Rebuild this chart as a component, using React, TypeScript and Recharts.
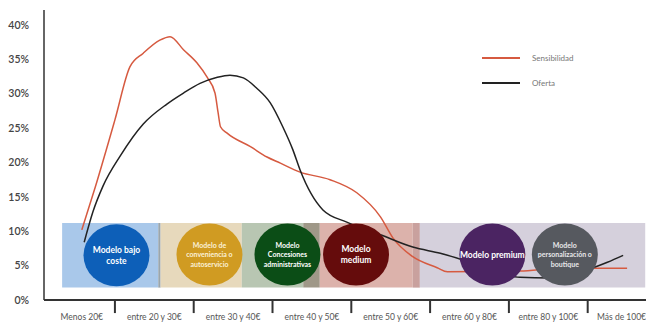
import {
  LineChart, Line, XAxis, YAxis, ReferenceArea, ReferenceDot, ReferenceLine, Legend,
} from 'recharts'

// x positions are in "price band" units: band i spans [i, i + 1]
const categories = [
  'Menos 20€', 'entre 20 y 30€', 'entre 30 y 40€', 'entre 40 y 50€',
  'entre 50 y 60€', 'entre 60 y 80€', 'entre 80 y 100€', 'Más de 100€',
]
const labelPos = [0.58, 1.5, 2.5, 3.5, 4.5, 5.5, 6.5, 7.43]
const tickMarks = [1, 2, 3, 4, 5, 6, 7]
const yTicks = [0, 5, 10, 15, 20, 25, 30, 35, 40]
const legendOrder = ['Sensibilidad', 'Oferta']

const sensX = [0.58, 0.75, 1.0, 1.19, 1.36, 1.57, 1.7, 1.87, 2.04, 2.17, 2.27, 2.31, 2.34, 2.42, 2.72, 2.93, 3.1, 3.35, 3.73, 4.07, 4.37, 4.53, 4.78, 5.09, 5.22, 6.14, 6.65, 7.5]
const sensY = [10.2, 16.4, 26.2, 33.9, 35.9, 37.8, 38.3, 36.4, 34.5, 32.4, 30.1, 27.2, 25.2, 24.3, 22.3, 20.8, 19.9, 18.6, 17.5, 15.6, 12.1, 9.0, 6.3, 4.7, 4.1, 4.2, 4.6, 4.6]

const ofertaX = [0.61, 0.72, 0.85, 1.07, 1.36, 1.66, 1.87, 2.08, 2.3, 2.46, 2.63, 2.8, 2.97, 3.13, 3.26, 3.35, 3.64, 3.95, 4.37, 4.78, 5.13, 5.72, 6.14, 6.52, 6.99, 7.25, 7.45]
const ofertaY = [8.4, 12.8, 16.6, 21.0, 25.6, 28.5, 30.1, 31.5, 32.4, 32.7, 32.3, 30.8, 28.7, 25.2, 21.8, 18.9, 13.1, 11.3, 9.5, 7.7, 6.8, 4.7, 3.3, 3.2, 4.4, 5.5, 6.5]

// background strips behind the business models
const bandFrom = [0.33, 1.55, 1.58, 2.61, 3.39, 3.6, 4.78, 4.87]
const bandTo = [1.55, 1.58, 2.61, 3.39, 3.6, 4.78, 4.87, 7.73]
const bandColor = ['#a9c8ea', '#9aa6ad', '#e7d9bc', '#b8c6b2', '#9f9888', '#dcb2ab', '#c9a19e', '#d5d0dc']

const modelX = [1.02, 2.2, 3.19, 4.06, 5.79, 6.71]
const modelY = [6.5, 6.6, 6.6, 6.6, 6.6, 6.6]
const modelColor = ['#0d5fb8', '#d09b22', '#0b4d16', '#650c0c', '#4b2462', '#56595f']
const modelText = [
  ['Modelo bajo', 'coste'],
  ['Modelo de', 'conveniencia o', 'autoservicio'],
  ['Modelo', 'Concesiones', 'administrativas'],
  ['Modelo', 'medium'],
  ['Modelo premium'],
  ['Modelo', 'personalización o', 'boutique'],
]
const modelTextColor = ['#ffffff', '#fbf1d8', '#ffffff', '#ffffff', '#ffffff', '#e8e8ea']

const sensData = sensX.map((x, i) => ({ x, y: sensY[i] }))
const ofertaData = ofertaX.map((x, i) => ({ x, y: ofertaY[i] }))

const FONT = 'Lato, "Open Sans", sans-serif'

function ModelBubble(props: any) {
  const { cx, cy, idx } = props
  const lines = modelText[idx]
  const fs = lines.length > 2 ? 7 : 8.5
  const lh = fs + 2.5
  const start = cy - ((lines.length - 1) * lh) / 2
  return (
    <g>
      <ellipse cx={cx} cy={cy} rx={33} ry={31} fill={modelColor[idx]} />
      {lines.map((t, i) => (
        <text
          key={i}
          x={cx}
          y={start + i * lh}
          dy="0.35em"
          textAnchor="middle"
          fontSize={fs}
          fontWeight={700}
          fontFamily={FONT}
          fill={modelTextColor[idx]}
        >
          {t}
        </text>
      ))}
    </g>
  )
}

function LegendBox(props: any) {
  const items = [...(props.payload || [])].sort(
    (a: any, b: any) => legendOrder.indexOf(a.value) - legendOrder.indexOf(b.value),
  )
  return (
    <div style={{ fontFamily: FONT, fontSize: 8, color: '#777' }}>
      {items.map((p: any, i: number) => (
        <div key={i} style={{ display: 'flex', alignItems: 'center', height: 25 }}>
          <span style={{ display: 'inline-block', width: 38, height: 2, background: p.color, marginRight: 12 }} />
          <span>{p.value}</span>
        </div>
      ))}
    </div>
  )
}

export default function App() {
  return (
    <div style={{ position: 'absolute', left: 0, top: 0, background: '#fff' }}>
      <LineChart width={646} height={325} margin={{ top: 10, right: 0, bottom: 0, left: 0 }}>
        <XAxis
          type="number"
          dataKey="x"
          domain={[0.1, 7.74]}
          allowDataOverflow
          ticks={labelPos}
          interval={0}
          tickFormatter={(_v: number, i: number) => categories[i]}
          tickLine={false}
          tickSize={0}
          tickMargin={14}
          tick={{ fill: '#555', fontSize: 8.5, fontFamily: FONT }}
          axisLine={{ stroke: '#333', strokeWidth: 2 }}
          height={25}
        />
        <YAxis
          type="number"
          domain={[0, 42.18]}
          ticks={yTicks}
          interval={0}
          tickFormatter={(v: number) => `${v}%`}
          tickLine={false}
          tickMargin={9}
          tick={{ fill: '#444', fontSize: 10.5, fontFamily: FONT, fontWeight: 600 }}
          axisLine={{ stroke: '#333', strokeWidth: 1.5 }}
          width={44}
        />
        {bandFrom.map((x1, i) => (
          <ReferenceArea
            key={`b${i}`}
            x1={x1}
            x2={bandTo[i]}
            y1={1.8}
            y2={11.2}
            fill={bandColor[i]}
            fillOpacity={1}
            stroke="none"
            ifOverflow="visible"
          />
        ))}
        {modelX.map((x, i) => (
          <ReferenceDot
            key={`m${i}`}
            x={x}
            y={modelY[i]}
            r={32}
            ifOverflow="visible"
            shape={(p: any) => <ModelBubble {...p} idx={i} />}
          />
        ))}
        {tickMarks.map((x) => (
          <ReferenceLine
            key={`t${x}`}
            segment={[{ x, y: 0 }, { x, y: -1.9 }]}
            stroke="#333"
            strokeWidth={2}
            ifOverflow="visible"
          />
        ))}
        <Legend
          verticalAlign="middle"
          align="center"
          layout="vertical"
          content={LegendBox}
          wrapperStyle={{ left: 482, top: 45, width: 130 }}
        />
        <Line
          data={sensData}
          dataKey="y"
          name="Sensibilidad"
          type="monotone"
          stroke="#d65a40"
          strokeWidth={1.5}
          dot={false}
          isAnimationActive={false}
        />
        <Line
          data={ofertaData}
          dataKey="y"
          name="Oferta"
          type="monotone"
          stroke="#222"
          strokeWidth={1.5}
          dot={false}
          isAnimationActive={false}
        />
      </LineChart>
    </div>
  )
}
